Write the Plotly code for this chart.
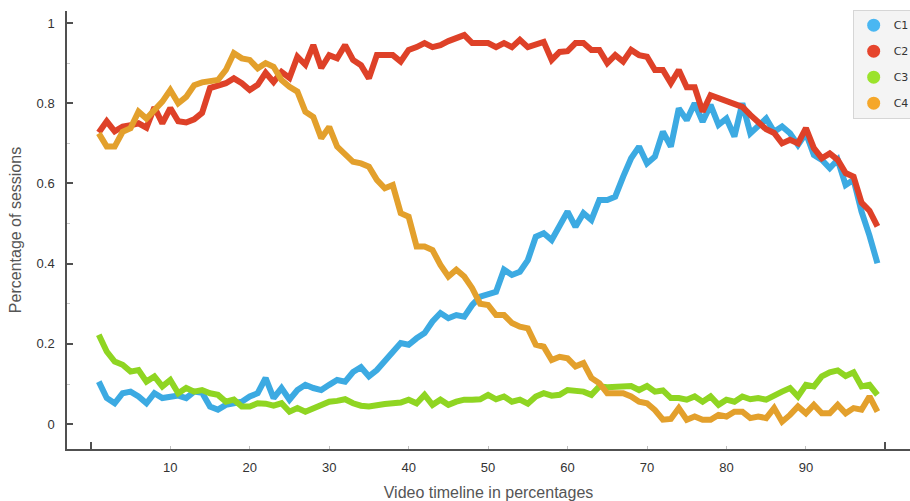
import plotly.graph_objects as go

# Position along the video, 1..99 %
timeline = list(range(1, 100))

c1 = [0.106, 0.065, 0.052, 0.077, 0.081, 0.069, 0.052, 0.077, 0.065, 0.069,
      0.071, 0.065, 0.081, 0.078, 0.044, 0.036, 0.048, 0.052, 0.056, 0.069,
      0.077, 0.115, 0.065, 0.090, 0.061, 0.085, 0.098, 0.090, 0.085, 0.098,
      0.110, 0.106, 0.130, 0.142, 0.119, 0.135, 0.155, 0.180, 0.202, 0.198,
      0.214, 0.227, 0.256, 0.277, 0.264, 0.272, 0.268, 0.297, 0.318, 0.326,
      0.330, 0.385, 0.372, 0.380, 0.409, 0.467, 0.476, 0.459, 0.492, 0.530,
      0.492, 0.526, 0.509, 0.559, 0.559, 0.567, 0.617, 0.663, 0.692, 0.650,
      0.667, 0.729, 0.692, 0.787, 0.758, 0.800, 0.754, 0.796, 0.746, 0.762,
      0.717, 0.800, 0.725, 0.746, 0.762, 0.729, 0.742, 0.725, 0.696, 0.725,
      0.671, 0.659, 0.638, 0.659, 0.596, 0.609, 0.530, 0.470, 0.401]

c2 = [0.727, 0.755, 0.730, 0.742, 0.745, 0.750, 0.739, 0.790, 0.750, 0.788,
      0.755, 0.752, 0.760, 0.776, 0.838, 0.845, 0.850, 0.862, 0.850, 0.833,
      0.846, 0.876, 0.853, 0.878, 0.863, 0.916, 0.896, 0.945, 0.888, 0.920,
      0.912, 0.945, 0.908, 0.895, 0.862, 0.920, 0.920, 0.920, 0.904, 0.933,
      0.940, 0.950, 0.940, 0.945, 0.955, 0.962, 0.970, 0.950, 0.950, 0.950,
      0.940, 0.950, 0.940, 0.958, 0.940, 0.945, 0.953, 0.908, 0.928, 0.930,
      0.950, 0.950, 0.933, 0.933, 0.900, 0.920, 0.904, 0.933, 0.920, 0.916,
      0.883, 0.883, 0.850, 0.883, 0.840, 0.840, 0.779, 0.820, 0.813, 0.804,
      0.796, 0.791, 0.771, 0.751, 0.735, 0.726, 0.700, 0.709, 0.700, 0.738,
      0.688, 0.663, 0.675, 0.659, 0.626, 0.617, 0.552, 0.532, 0.493]

c3 = [0.223, 0.181, 0.156, 0.148, 0.131, 0.135, 0.106, 0.119, 0.094, 0.110,
      0.077, 0.090, 0.081, 0.085, 0.077, 0.073, 0.056, 0.061, 0.044, 0.044,
      0.052, 0.051, 0.046, 0.052, 0.031, 0.040, 0.031, 0.040, 0.051, 0.056,
      0.058, 0.062, 0.052, 0.046, 0.044, 0.048, 0.050, 0.052, 0.054, 0.061,
      0.052, 0.073, 0.048, 0.061, 0.048, 0.056, 0.061, 0.061, 0.062, 0.073,
      0.062, 0.069, 0.056, 0.061, 0.051, 0.069, 0.077, 0.071, 0.073, 0.085,
      0.083, 0.081, 0.073, 0.094, 0.092, 0.094, 0.094, 0.095, 0.085, 0.095,
      0.081, 0.084, 0.065, 0.065, 0.061, 0.069, 0.056, 0.069, 0.048, 0.061,
      0.056, 0.069, 0.062, 0.065, 0.061, 0.073, 0.081, 0.090, 0.069, 0.098,
      0.094, 0.119, 0.129, 0.134, 0.120, 0.129, 0.094, 0.098, 0.073]

c4 = [0.725, 0.692, 0.692, 0.729, 0.738, 0.779, 0.762, 0.785, 0.804, 0.833,
      0.800, 0.816, 0.845, 0.852, 0.854, 0.858, 0.883, 0.925, 0.912, 0.908,
      0.887, 0.900, 0.891, 0.858, 0.841, 0.829, 0.779, 0.766, 0.713, 0.741,
      0.692, 0.675, 0.654, 0.650, 0.642, 0.609, 0.588, 0.596, 0.526, 0.517,
      0.443, 0.443, 0.434, 0.397, 0.368, 0.385, 0.368, 0.339, 0.300, 0.297,
      0.272, 0.272, 0.252, 0.243, 0.239, 0.198, 0.193, 0.160, 0.168, 0.164,
      0.144, 0.152, 0.115, 0.102, 0.077, 0.077, 0.077, 0.069, 0.056, 0.052,
      0.035, 0.011, 0.013, 0.040, 0.011, 0.019, 0.011, 0.011, 0.023, 0.019,
      0.031, 0.031, 0.015, 0.019, 0.015, 0.040, 0.006, 0.023, 0.044, 0.027,
      0.048, 0.027, 0.027, 0.048, 0.027, 0.040, 0.036, 0.069, 0.031]

series_names = ["C1", "C2", "C3", "C4"]
series_values = [c1, c2, c3, c4]
line_colors = ["#3caae2", "#de4128", "#8fd522", "#e3a02c"]
legend_colors = ["#4ab7f2", "#e6452d", "#9be32c", "#f5a72a"]

x_ticks = [10, 20, 30, 40, 50, 60, 70, 80, 90]
y_ticks = [0, 0.2, 0.4, 0.6, 0.8, 1]
y_tick_text = ["0", "0.2", "0.4", "0.6", "0.8", "1"]

fig = go.Figure()

for name, vals, col in zip(series_names, series_values, line_colors):
    fig.add_trace(go.Scatter(
        x=timeline, y=vals, mode="lines", name=name,
        line=dict(color=col, width=6),
        showlegend=False, hoverinfo="skip",
    ))

# legend entries drawn as round swatches
for name, col in zip(series_names, legend_colors):
    fig.add_trace(go.Scatter(
        x=[None], y=[None], mode="markers", name=name, legendgroup=name,
        marker=dict(color=col, size=13, symbol="circle"),
    ))

fig.update_layout(
    width=910, height=501,
    margin=dict(l=67, r=0, t=11, b=52, autoexpand=False),
    paper_bgcolor="white", plot_bgcolor="white",
    showlegend=True,
    legend=dict(
        x=0.932, y=1.003, xanchor="left", yanchor="top",
        bgcolor="#f4f4f4", bordercolor="#d6d6d6", borderwidth=1,
        font=dict(family="DejaVu Sans", size=11, color="#333333"),
        traceorder="grouped", tracegroupgap=7,
    ),
    xaxis=dict(
        range=[-3.0, 103.1], showgrid=False, zeroline=False,
        showline=True, linecolor="#505050", linewidth=1.5,
        tickmode="array", tickvals=x_ticks,
        ticks="inside", ticklen=3, tickcolor="#c0c0c0", tickwidth=1,
        ticklabelstandoff=6,
        tickfont=dict(family="Liberation Sans Narrow, Arial Narrow, Liberation Sans, sans-serif",
                      size=13, color="#333333"),
        minor=dict(tickmode="array", tickvals=[0, 100], ticks="inside",
                   ticklen=7, tickcolor="#505050", tickwidth=1.5),
        title=dict(text="Video timeline in percentages", standoff=12,
                   font=dict(family="Liberation Sans", size=16, color="#555555")),
    ),
    yaxis=dict(
        range=[-0.062, 1.03], showgrid=False, zeroline=False,
        showline=True, linecolor="#505050", linewidth=1.5,
        tickmode="array", tickvals=y_ticks, ticktext=y_tick_text,
        ticks="inside", ticklen=6, tickcolor="#505050", tickwidth=1.5,
        ticklabelstandoff=8,
        tickfont=dict(family="Liberation Sans", size=13, color="#333333"),
        minor=dict(dtick=0.1, tick0=0, ticks="inside", ticklen=3,
                   tickcolor="#c8c8c8", tickwidth=1),
        title=dict(text="Percentage of sessions", standoff=11,
                   font=dict(family="Liberation Sans", size=16, color="#555555")),
    ),
)

fig.write_html("out.html")
